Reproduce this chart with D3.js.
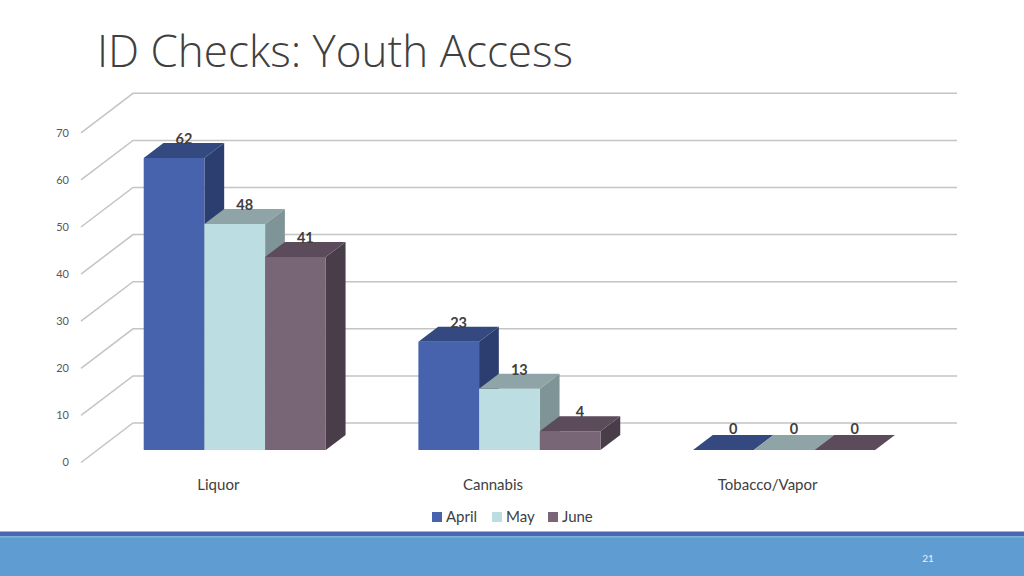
<!DOCTYPE html>
<html><head><meta charset="utf-8">
<script src="https://cdn.jsdelivr.net/npm/d3@7"></script>
<style>html,body{margin:0;padding:0;background:#fff;}svg{display:block;}</style>
</head><body>
<svg id="c" width="1024" height="576"></svg>
<script>
const categories = ["Liquor", "Cannabis", "Tobacco/Vapor"];
const seriesNames = ["April", "May", "June"];
const april = [62, 23, 0];
const may = [48, 13, 0];
const june = [41, 4, 0];
const yTicks = [0, 10, 20, 30, 40, 50, 60, 70];
const title = "ID Checks: Youth Access";
const pageNumber = "21";

const seriesValues = [april, may, june];
const colors = {
  April: {front: "#4863ad", top: "#34497f", side: "#2c3d70"},
  May:   {front: "#bcdde1", top: "#8fa4a6", side: "#7f9496"},
  June:  {front: "#786677", top: "#5b4b5b", side: "#4a3d4a"}
};

const svg = d3.select("#c");

// 3D projection
const DX = 52, DY = 39.5;
const y = d3.scaleLinear().domain([0, 70]).range([462.5, 132.8]);
const x = d3.scaleBand().domain(categories).range([81, 905]).paddingInner(0.337).paddingOuter(0.1685);
const xs = d3.scaleBand().domain(seriesNames).range([0, x.bandwidth()]);
const P = (wx, v, z) => [wx + z * DX, y(v) - z * DY];
const zF = 0.316, zB = 0.696;

// Title
svg.append("text").attr("x", 97).attr("y", 67)
  .attr("font-family", "'Open Sans', sans-serif").attr("font-weight", 300)
  .attr("font-size", 44).attr("fill", "#404040")
  .attr("textLength", 476).attr("lengthAdjust", "spacingAndGlyphs")
  .text(title);

// Gridlines: back wall + left wall diagonals
const grid = svg.append("g").attr("stroke", "#c4c4c4").attr("stroke-width", 1.5).attr("fill", "none");
yTicks.forEach(t => {
  const a = P(x.range()[0], t, 0), b = P(x.range()[0], t, 1), c = P(x.range()[1], t, 1);
  grid.append("path").attr("d", `M${a[0]},${a[1]}L${b[0]},${b[1]}L${c[0]},${c[1]}`);
});

// Y labels
svg.append("g").selectAll("text").data(yTicks).join("text")
  .attr("x", 69).attr("y", d => y(d)).attr("dy", "0.35em")
  .attr("text-anchor", "end").attr("font-family", "Lato, 'Open Sans', sans-serif")
  .attr("font-size", 11).attr("fill", "#595959").text(d => d);

// Bars
const bars = svg.append("g");
const labels = [];
categories.forEach((cat, ci) => {
  seriesNames.forEach((s, si) => {
    const v = seriesValues[si][ci];
    const x0 = x(cat) + xs(s), x1 = x0 + xs.bandwidth();
    const col = colors[s];
    const poly = pts => "M" + pts.map(p => p.join(",")).join("L") + "Z";
    if (v > 0) {
      bars.append("path").attr("fill", col.side)
        .attr("d", poly([P(x1, 0, zF), P(x1, v, zF), P(x1, v, zB), P(x1, 0, zB)]));
      bars.append("path").attr("fill", col.front)
        .attr("d", poly([P(x0, 0, zF), P(x0, v, zF), P(x1, v, zF), P(x1, 0, zF)]));
    }
    bars.append("path").attr("fill", col.top)
      .attr("d", poly([P(x0, v, zF), P(x0, v, zB), P(x1, v, zB), P(x1, v, zF)]));
    const lp = P((x0 + x1) / 2, v, (zF + zB) / 2);
    const bp = P(x0, v, zB);
    labels.push({v, x: lp[0], y: bp[1] + (v > 0 ? 1 : -1)});
  });
});
svg.append("g").selectAll("text").data(labels).join("text")
  .attr("x", d => d.x).attr("y", d => d.y).attr("text-anchor", "middle")
  .attr("font-family", "Lato, 'Open Sans', sans-serif").attr("font-weight", 700)
  .attr("font-size", 14.5).attr("fill", "#404040").text(d => d.v);

// Category labels
svg.append("g").selectAll("text").data(categories).join("text")
  .attr("x", d => x(d) + x.bandwidth() / 2).attr("y", 490)
  .attr("text-anchor", "middle").attr("font-family", "Lato, 'Open Sans', sans-serif")
  .attr("font-size", 15).attr("fill", "#404040").text(d => d);

// Legend
const legendX = [432, 492, 548];
const lg = svg.append("g");
seriesNames.forEach((s, i) => {
  lg.append("rect").attr("x", legendX[i]).attr("y", 512).attr("width", 10).attr("height", 10).attr("fill", colors[s].front);
  lg.append("text").attr("x", legendX[i] + 14).attr("y", 522)
    .attr("font-family", "Lato, 'Open Sans', sans-serif").attr("font-size", 15)
    .attr("fill", "#404040").text(s);
});

// Footer
svg.append("rect").attr("x", 0).attr("y", 531.5).attr("width", 1024).attr("height", 5).attr("fill", "#4a67b1");
svg.append("rect").attr("x", 0).attr("y", 536.5).attr("width", 1024).attr("height", 40).attr("fill", "#5f9cd1");
svg.append("rect").attr("x", 0).attr("y", 536.5).attr("width", 1024).attr("height", 1).attr("fill", "#86b6e0");
svg.append("text").attr("x", 928).attr("y", 562).attr("text-anchor", "middle")
  .attr("font-family", "Lato, 'Open Sans', sans-serif").attr("font-size", 10)
  .attr("fill", "#e8f0fa").text(pageNumber);
</script>
</body></html>
